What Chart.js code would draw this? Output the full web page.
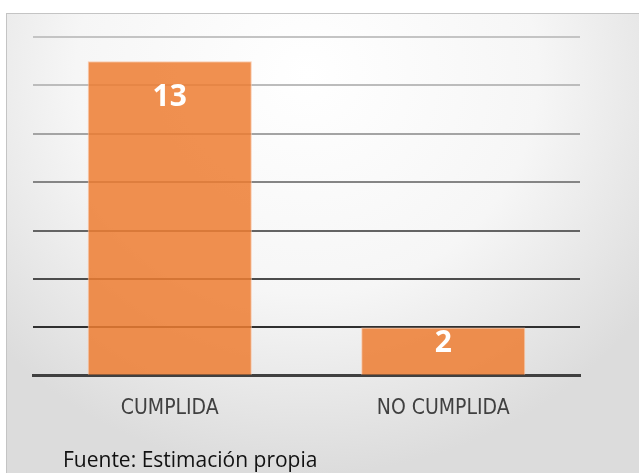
<!DOCTYPE html>
<html lang="es">
<head>
    <meta charset="UTF-8">
    <title>Cumplida / No cumplida</title>
    <script src="https://cdn.jsdelivr.net/npm/chart.js"></script>
    <style>
        body {
            margin: 0;
            width: 639px;
            height: 473px;
            overflow: hidden;
            background: #ffffff;
            font-family: "Open Sans", Arial, sans-serif;
        }
        .frame {
            position: absolute;
            left: 6px;
            top: 13px;
            width: 700px;
            height: 520px;
            border: 1px solid #c4c4c4;
            background: radial-gradient(ellipse 420px 400px at 300px 60px, #ffffff 0%, #f6f6f6 55%, #dcdcdc 100%);
        }
        #chart {
            position: absolute;
            left: 0;
            top: 0;
        }
        .fuente {
            position: absolute;
            left: 63px;
            top: 445px;
            font-size: 21px;
            color: #111;
        }
    </style>
</head>
<body>
    <div class="frame"></div>
    <canvas id="chart" width="639" height="473"></canvas>
    <div class="fuente">Fuente: Estimación propia</div>

    <script>
        // datos
        const categorias = ['CUMPLIDA', 'NO CUMPLIDA'];
        const valores = [13, 2];
        const ejeMax = 14;
        const paso = 2;

        // lineas de la cuadricula: mas oscuras abajo
        const coloresGrid = ['#404040', '#303030', '#4c4c4c', '#646464', '#858585', '#a4a4a4', '#bcbcbc', '#c4c4c4'];

        // etiquetas blancas dentro de las barras
        const etiquetas = {
            id: 'etiquetas',
            afterDatasetsDraw(chart) {
                const ctx = chart.ctx;
                const meta = chart.getDatasetMeta(0);
                ctx.save();
                ctx.fillStyle = '#ffffff';
                ctx.font = 'bold 30px "Open Sans", Arial, sans-serif';
                ctx.textAlign = 'center';
                ctx.textBaseline = 'middle';
                meta.data.forEach((bar, i) => {
                    const off = Math.min(35, (bar.base - bar.y) * 0.32);
                    ctx.fillText(valores[i], bar.x, bar.y + off + 1);
                });
                ctx.restore();
            }
        };

        new Chart(document.getElementById('chart'), {
            type: 'bar',
            data: {
                labels: categorias,
                datasets: [{
                    data: valores,
                    backgroundColor: 'rgba(237,125,49,0.85)',
                    borderColor: 'rgba(250,200,170,0.9)',
                    borderWidth: 1,
                    barPercentage: 0.6,
                    categoryPercentage: 1
                }]
            },
            options: {
                responsive: false,
                animation: false,
                layout: {
                    padding: { left: 33, right: 59, top: 37, bottom: 40 }
                },
                plugins: {
                    legend: { display: false },
                    tooltip: { enabled: false }
                },
                scales: {
                    x: {
                        grid: { display: false },
                        border: { display: true, color: '#404040', width: 3 },
                        ticks: {
                            color: '#404040',
                            padding: 12,
                            font: { family: '"Liberation Sans Narrow", "DejaVu Sans Condensed", Arial, sans-serif', size: 21 }
                        }
                    },
                    y: {
                        min: 0,
                        max: ejeMax,
                        ticks: { display: false, stepSize: paso },
                        border: { display: false },
                        grid: {
                            color: c => coloresGrid[c.index] || '#c4c4c4',
                            lineWidth: 2,
                            drawTicks: false
                        }
                    }
                }
            },
            plugins: [etiquetas]
        });
    </script>
</body>
</html>
